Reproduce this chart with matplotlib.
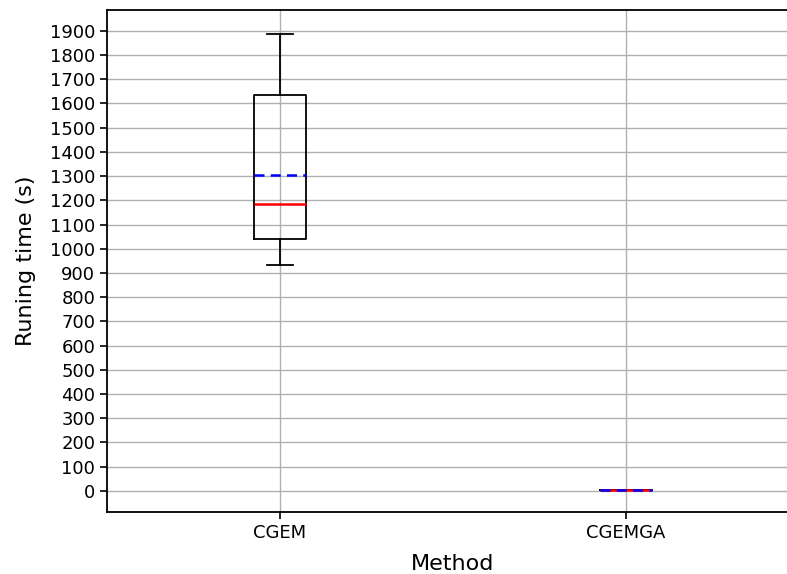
import matplotlib
matplotlib.use("Agg")
import matplotlib.pyplot as plt

methods = ["CGEM", "CGEMGA"]
whisker_low = [935, 5]
q1 = [1040, 5]
median = [1185, 5]
mean = [1305, 5]
q3 = [1633, 5]
whisker_high = [1888, 5]
yticks = list(range(0, 2000, 100))

stats = []
for i, m in enumerate(methods):
    stats.append(dict(label=m, whislo=whisker_low[i], q1=q1[i], med=median[i],
                      mean=mean[i], q3=q3[i], whishi=whisker_high[i], fliers=[]))

fig = plt.figure(figsize=(7.87, 5.74), dpi=100)
ax = fig.add_axes([107/787, 62/574, (799-107)/787, (512-10)/574])
ax.bxp(stats, showmeans=True, meanline=True,
       boxprops=dict(color="black", linewidth=1.3),
       whiskerprops=dict(color="black", linewidth=1.3),
       capprops=dict(color="black", linewidth=1.3),
       medianprops=dict(color="red", linewidth=1.8),
       meanprops=dict(color="blue", linestyle=(0, (4, 2.5)), linewidth=1.8))
ax.set_yticks(yticks)
ax.set_xlim(0.5, 2.5)
ax.set_ylim(-87, 1986)
ax.grid(True, color="#b0b0b0", linewidth=1.0)
ax.set_axisbelow(True)
ax.tick_params(labelsize=13, width=1.2, length=5)
for s in ax.spines.values():
    s.set_linewidth(1.3)
ax.set_xlabel("Method", fontsize=16, labelpad=9)
ax.set_ylabel("Runing time (s)", fontsize=16, labelpad=10)
fig.savefig("out.png", dpi=100)
